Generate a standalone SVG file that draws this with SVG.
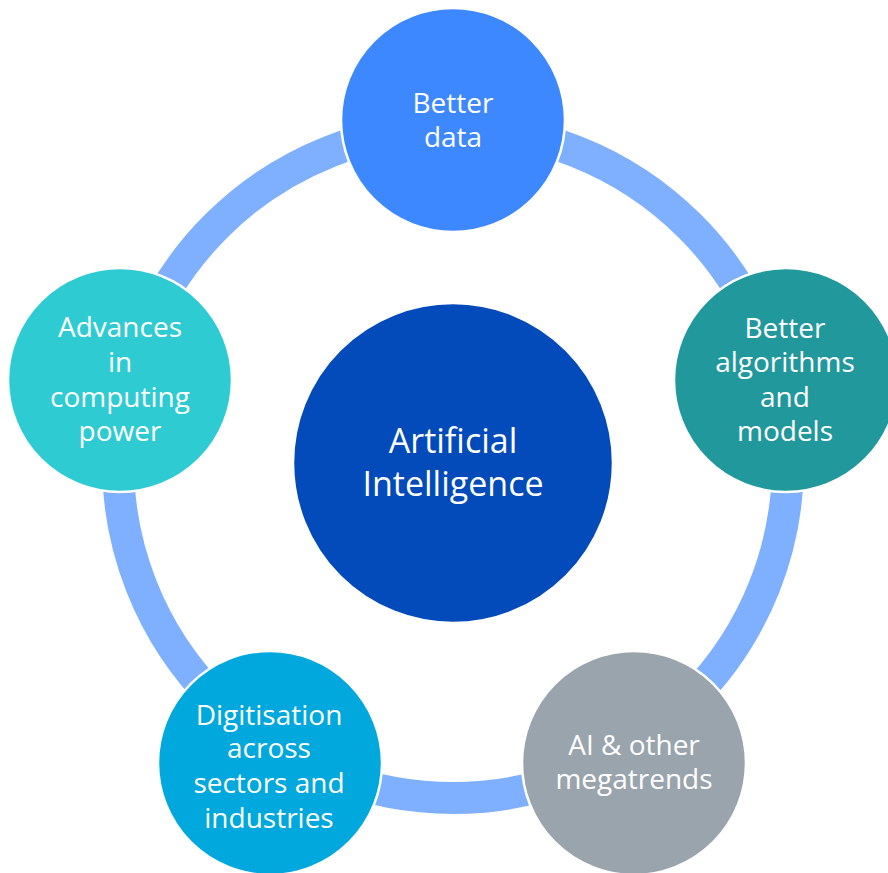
<svg xmlns="http://www.w3.org/2000/svg" width="888" height="873" viewBox="0 0 888 873">
<style>
.node{stroke:#ffffff;stroke-width:2.5}
.lbl{font-family:"Open Sans","Noto Sans","Liberation Sans",sans-serif;font-size:28px;fill:#ffffff;text-anchor:middle}
.big{font-size:34px}
</style>
<rect width="888" height="873" fill="#ffffff"/>
<g id="connectors">
<circle cx="453" cy="463" r="335" fill="none" stroke="#7FB0FF" stroke-width="32"/>
</g>
<g id="center">
<circle class="node" cx="453" cy="463" r="160" fill="#034ABB"/>
<text class="lbl big" x="453" y="453">Artificial</text>
<text class="lbl big" x="453" y="496">Intelligence</text>
</g>
<g id="better-data">
<circle class="node" cx="453" cy="120" r="112" fill="#3E88FF"/>
<text class="lbl" x="453" y="113">Better</text>
<text class="lbl" x="453" y="147">data</text>
</g>
<g id="better-algorithms">
<circle class="node" cx="786" cy="380" r="112" fill="#21989C"/>
<text class="lbl" x="785" y="338">Better</text>
<text class="lbl" x="785" y="372">algorithms</text>
<text class="lbl" x="785" y="407">and</text>
<text class="lbl" x="785" y="441">models</text>
</g>
<g id="megatrends">
<circle class="node" cx="634" cy="763" r="112" fill="#9AA4AD"/>
<text class="lbl" x="634" y="755">AI &amp; other</text>
<text class="lbl" x="634" y="789">megatrends</text>
</g>
<g id="digitisation">
<circle class="node" cx="270" cy="763" r="112" fill="#00A8DE"/>
<text class="lbl" x="269" y="725">Digitisation</text>
<text class="lbl" x="269" y="758">across</text>
<text class="lbl" x="269" y="793">sectors and</text>
<text class="lbl" x="269" y="828">industries</text>
</g>
<g id="computing-power">
<circle class="node" cx="120" cy="380" r="112" fill="#2ECBD2"/>
<text class="lbl" x="120" y="337">Advances</text>
<text class="lbl" x="120" y="372">in</text>
<text class="lbl" x="120" y="407">computing</text>
<text class="lbl" x="120" y="441">power</text>
</g>
</svg>
